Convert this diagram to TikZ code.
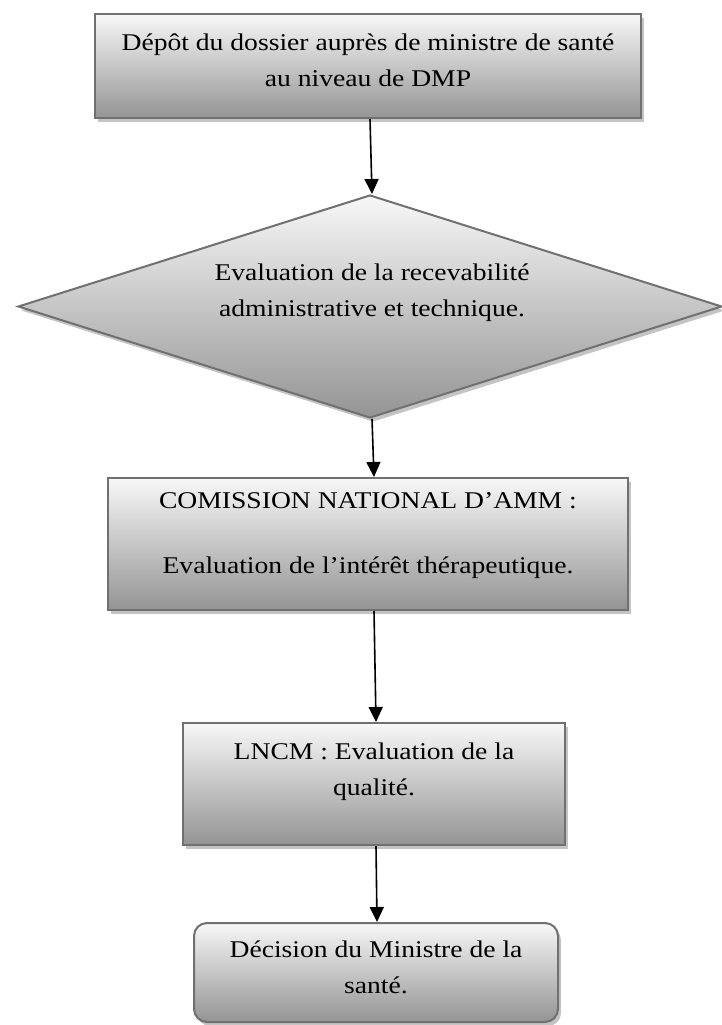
\documentclass[tikz,border=0pt]{standalone}
\usepackage{fontspec}
\setmainfont{Liberation Serif}[FakeStretch=1.15]
\usetikzlibrary{shapes.geometric,shadows,arrows.meta}
\definecolor{boxedge}{HTML}{707070}
\definecolor{shadowgray}{HTML}{C4C4C4}

\begin{document}
\begin{tikzpicture}[x=1pt,y=-1pt,
  shaded/.style={draw=boxedge, line width=2pt,
    top color=white!97!black, bottom color=black!42,
    drop shadow={shadow xshift=3pt, shadow yshift=-4pt, fill=shadowgray, opacity=1},
    inner sep=0pt},
  stepbox/.style={shaded, rectangle},
  decision/.style={shaded, diamond},
  finalbox/.style={shaded, rectangle, rounded corners=13pt},
  label/.style={align=center, inner sep=0pt, font=\fontsize{24}{36}\selectfont},
  arr/.style={-{Triangle[length=15pt,width=14pt]}, line width=1.6pt, black}
]
\useasboundingbox (0,0) rectangle (721,1025);

% boxes of the procedure
\node[stepbox, minimum width=546pt, minimum height=104pt] (b1) at (368,66) {};
\node[decision, minimum width=704pt, minimum height=223pt] (d1) at (370,306.5) {};
\node[stepbox, minimum width=520pt, minimum height=132pt] (b2) at (368,544) {};
\node[stepbox, minimum width=382pt, minimum height=122pt] (b3) at (374,784) {};
\node[finalbox, minimum width=364pt, minimum height=99pt] (b4) at (376,972.5) {};

% texts
\node[label] (t1) at (368,60) {Dépôt du dossier auprès de ministre de santé\\au niveau de DMP};
\node[label] (t2) at (372,292.5) {Evaluation de la recevabilité\\administrative et technique.};
\node[label] (t3) at (368,535.5) {COMISSION NATIONAL D’AMM :\\[29pt]Evaluation de l’intérêt thérapeutique.};
\node[label] (t4) at (374,772) {LNCM : Evaluation de la\\qualité.};
\node[label] (t5) at (376,967.5) {Décision du Ministre de la\\santé.};

% connectors
\draw[arr] ([xshift=2pt]b1.south) -- ([xshift=2pt]d1.north);
\draw[arr] ([xshift=2pt]d1.south) -- ([xshift=6pt]b2.north);
\draw[arr] ([xshift=6pt]b2.south) -- ([xshift=2pt]b3.north);
\draw[arr] ([xshift=2pt]b3.south) -- ([xshift=1pt]b4.north);
\end{tikzpicture}
\end{document}
